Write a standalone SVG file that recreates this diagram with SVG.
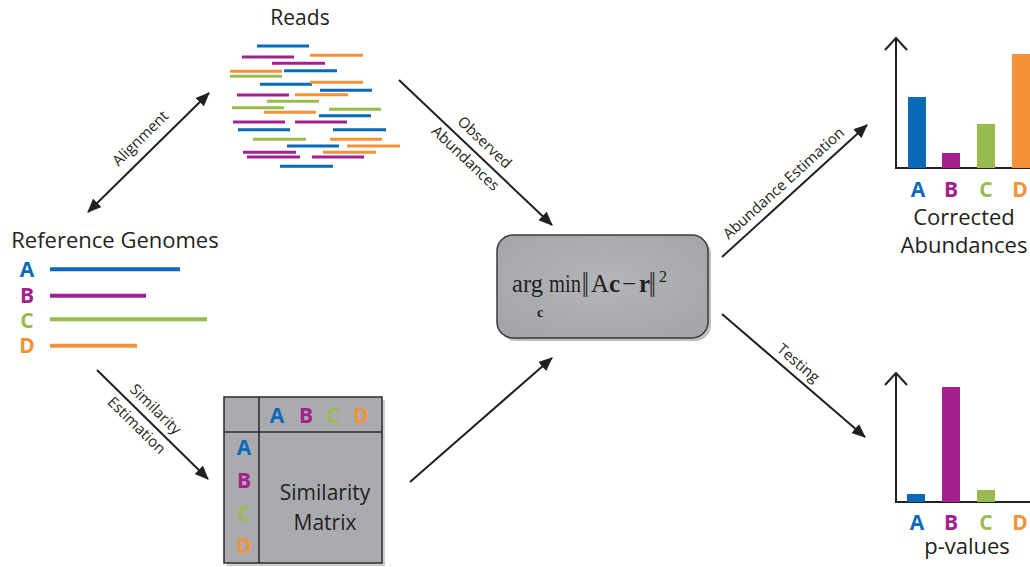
<svg xmlns="http://www.w3.org/2000/svg" width="1030" height="567" viewBox="0 0 1030 567">
<defs>
<marker id="ah" markerUnits="userSpaceOnUse" markerWidth="14" markerHeight="12" refX="13" refY="6" orient="auto-start-reverse" viewBox="0 0 14 12">
<path d="M0,0 L14,6 L0,12 Z" fill="#231f20"/>
</marker>
<radialGradient id="gbox" cx="0.5" cy="0.45" r="0.7">
<stop offset="0" stop-color="#b3b5b8"/>
<stop offset="1" stop-color="#a2a4a7"/>
</radialGradient>
</defs>
<style>
.t{font-family:"Open Sans","Liberation Sans",sans-serif;fill:#231f20}
.lb{font-family:"Open Sans","Liberation Sans",sans-serif;font-size:15px;fill:#231f20}
.L{font-family:"Open Sans","Liberation Sans",sans-serif;font-weight:bold;font-size:21px}
.blue{fill:#0b6ab8}.purple{fill:#a3218e}.green{fill:#98bb50}.orange{fill:#f39238}
.rb{stroke:#0b6ab8}.rp{stroke:#a3218e}.rg{stroke:#98bb50}.ro{stroke:#f39238}
.read{stroke-width:3;fill:none}
.g{stroke-width:4;fill:none}
.conn{stroke:#231f20;stroke-width:2;fill:none}
.ax{stroke:#231f20;stroke-width:2;fill:none}
.eq{font-family:"Liberation Serif","Times New Roman",serif;fill:#231f20}
</style>

<g id="reads">
<text class="t" x="300" y="25" font-size="21" text-anchor="middle">Reads</text>
<g class="read">
<line class="rb" x1="257" y1="46" x2="309" y2="46"/>
<line class="rp" x1="242" y1="57" x2="294" y2="57"/>
<line class="ro" x1="310" y1="55.3" x2="363" y2="55.3"/>
<line class="rp" x1="272" y1="63.3" x2="325" y2="63.3"/>
<line class="ro" x1="230" y1="71.3" x2="282" y2="71.3"/>
<line class="rb" x1="284" y1="70.7" x2="337" y2="70.7"/>
<line class="rg" x1="230" y1="76.3" x2="282" y2="76.3"/>
<line class="rb" x1="260" y1="84.3" x2="312" y2="84.3"/>
<line class="ro" x1="310" y1="82.3" x2="363" y2="82.3"/>
<line class="rb" x1="320" y1="90.3" x2="372" y2="90.3"/>
<line class="rp" x1="237" y1="95" x2="289" y2="95"/>
<line class="ro" x1="295" y1="94.7" x2="348" y2="94.7"/>
<line class="rg" x1="267" y1="101.3" x2="319" y2="101.3"/>
<line class="rg" x1="232" y1="107.7" x2="284" y2="107.7"/>
<line class="ro" x1="264" y1="112.3" x2="316" y2="112.3"/>
<line class="rg" x1="329" y1="109.3" x2="381" y2="109.3"/>
<line class="rb" x1="319" y1="115.7" x2="371" y2="115.7"/>
<line class="rp" x1="233" y1="122" x2="285" y2="122"/>
<line class="rp" x1="295" y1="122" x2="347" y2="122"/>
<line class="rb" x1="238" y1="129.7" x2="290" y2="129.7"/>
<line class="rb" x1="333" y1="129.7" x2="386" y2="129.7"/>
<line class="rg" x1="253" y1="139.3" x2="306" y2="139.3"/>
<line class="ro" x1="330" y1="139.3" x2="382" y2="139.3"/>
<line class="rb" x1="287" y1="146" x2="339" y2="146"/>
<line class="ro" x1="347" y1="146" x2="400" y2="146"/>
<line class="rp" x1="243" y1="152.3" x2="296" y2="152.3"/>
<line class="ro" x1="323" y1="152.3" x2="376" y2="152.3"/>
<line class="rp" x1="247" y1="157" x2="300" y2="157"/>
<line class="rp" x1="312" y1="157" x2="364" y2="157"/>
<line class="rb" x1="280" y1="166.3" x2="333" y2="166.3"/>
</g>
</g>

<g id="reference-genomes">
<text class="t" x="115" y="248" font-size="22" text-anchor="middle">Reference Genomes</text>
<text class="L blue" x="27" y="277" text-anchor="middle">A</text>
<text class="L purple" x="27" y="303" text-anchor="middle">B</text>
<text class="L green" x="27" y="328" text-anchor="middle">C</text>
<text class="L orange" x="27" y="353" text-anchor="middle">D</text>
<line class="g rb" x1="50" y1="269.3" x2="180" y2="269.3"/>
<line class="g rp" x1="50" y1="295.7" x2="146" y2="295.7"/>
<line class="g rg" x1="50" y1="319.3" x2="207" y2="319.3"/>
<line class="g ro" x1="50" y1="345.7" x2="137" y2="345.7"/>
</g>

<g id="equation">
<rect x="500" y="238" width="211" height="103" rx="16" fill="#7d7f82" opacity="0.5"/>
<rect x="497" y="235" width="211" height="103" rx="16" fill="url(#gbox)" stroke="#3a3a3a" stroke-width="1.5"/>
<text class="eq" x="512" y="292" font-size="25" textLength="31" lengthAdjust="spacingAndGlyphs">arg</text>
<text class="eq" x="549" y="292" font-size="25" textLength="32" lengthAdjust="spacingAndGlyphs">min</text>
<text class="eq" x="540" y="317" font-size="14" font-weight="bold" text-anchor="middle">c</text>
<text class="eq" transform="translate(582,297) scale(1,1.45)" font-size="24">‖</text>
<text class="eq" x="591" y="292" font-size="25">A<tspan font-weight="bold">c</tspan></text>
<text class="eq" x="622" y="292" font-size="25">−</text>
<text class="eq" x="639" y="292" font-size="25" font-weight="bold">r</text>
<text class="eq" transform="translate(649,297) scale(1,1.45)" font-size="24">‖</text>
<text class="eq" x="659" y="282" font-size="16">2</text>
</g>

<g id="similarity-matrix">
<rect x="227" y="400" width="158" height="166" fill="#7d7f82" opacity="0.4"/>
<rect x="224" y="397" width="158" height="166" fill="#a9abae" stroke="#2b2b2b" stroke-width="1.5"/>
<line x1="259" y1="397" x2="259" y2="563" stroke="#2b2b2b" stroke-width="1.5"/>
<line x1="224" y1="432" x2="382" y2="432" stroke="#2b2b2b" stroke-width="1.5"/>
<text class="L blue" x="277" y="423" text-anchor="middle">A</text>
<text class="L purple" x="306" y="423" text-anchor="middle">B</text>
<text class="L green" x="333" y="423" text-anchor="middle">C</text>
<text class="L orange" x="361" y="423" text-anchor="middle">D</text>
<text class="L blue" x="244" y="455" text-anchor="middle">A</text>
<text class="L purple" x="244" y="488" text-anchor="middle">B</text>
<text class="L green" x="244" y="521" text-anchor="middle">C</text>
<text class="L orange" x="244" y="553" text-anchor="middle">D</text>
<text class="t" x="325" y="500" font-size="21" text-anchor="middle">Similarity</text>
<text class="t" x="325" y="530" font-size="21" text-anchor="middle">Matrix</text>
</g>

<g id="corrected-abundances">
<polyline class="ax" points="896,38 896,168 1030,168"/>
<polyline class="ax" points="885,50 896,38 907,50"/>
<rect class="blue" x="908" y="97" width="18" height="71"/>
<rect class="purple" x="942" y="153" width="18" height="15"/>
<rect class="green" x="977" y="124" width="18" height="44"/>
<rect class="orange" x="1012" y="54" width="18" height="114"/>
<text class="L blue" x="918" y="197" text-anchor="middle">A</text>
<text class="L purple" x="951" y="197" text-anchor="middle">B</text>
<text class="L green" x="986" y="197" text-anchor="middle">C</text>
<text class="L orange" x="1020" y="197" text-anchor="middle">D</text>
<text class="t" x="964" y="225" font-size="22" text-anchor="middle">Corrected</text>
<text class="t" x="964" y="253" font-size="22" text-anchor="middle">Abundances</text>
</g>

<g id="p-values">
<polyline class="ax" points="896,373 896,502 1030,502"/>
<polyline class="ax" points="885,385 896,373 907,385"/>
<rect class="blue" x="907" y="494" width="18" height="8"/>
<rect class="purple" x="942" y="387" width="18" height="115"/>
<rect class="green" x="977" y="490" width="18" height="12"/>
<text class="L blue" x="917" y="530" text-anchor="middle">A</text>
<text class="L purple" x="951" y="530" text-anchor="middle">B</text>
<text class="L green" x="986" y="530" text-anchor="middle">C</text>
<text class="L orange" x="1020" y="530" text-anchor="middle">D</text>
<text class="t" x="967" y="554" font-size="22" text-anchor="middle">p-values</text>
</g>

<g id="connectors">
<line class="conn" x1="88" y1="212" x2="209" y2="93" marker-start="url(#ah)" marker-end="url(#ah)"/>
<text class="lb" transform="translate(144,142) rotate(-44.5)" text-anchor="middle">Alignment</text>
<line class="conn" x1="399" y1="80" x2="552" y2="225" marker-end="url(#ah)"/>
<text class="lb" transform="translate(481,146) rotate(43.5)" text-anchor="middle">Observed</text>
<text class="lb" transform="translate(462,162) rotate(43.5)" text-anchor="middle">Abundances</text>
<line class="conn" x1="97" y1="370" x2="208" y2="479" marker-end="url(#ah)"/>
<text class="lb" transform="translate(152,413) rotate(44.5)" text-anchor="middle">Similarity</text>
<text class="lb" transform="translate(133,429) rotate(44.5)" text-anchor="middle">Estimation</text>
<line class="conn" x1="410" y1="482" x2="552" y2="358" marker-end="url(#ah)"/>
<line class="conn" x1="722" y1="257" x2="867" y2="125" marker-end="url(#ah)"/>
<text class="lb" transform="translate(787,187) rotate(-42.3)" text-anchor="middle">Abundance Estimation</text>
<line class="conn" x1="722" y1="314" x2="865" y2="437" marker-end="url(#ah)"/>
<text class="lb" transform="translate(795,367) rotate(40.7)" text-anchor="middle">Testing</text>
</g>
</svg>
